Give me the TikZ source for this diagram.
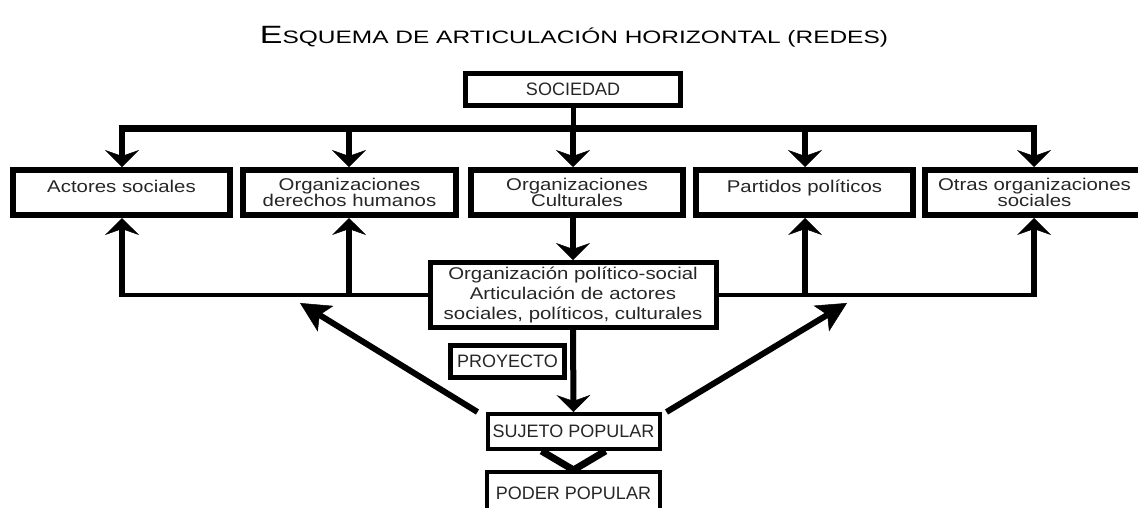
\documentclass[tikz,border=0pt]{standalone}
\usepackage{fontspec}
\setmainfont{Liberation Sans}
\usetikzlibrary{arrows.meta,calc}
\newcommand\sx[1]{\scalebox{1.2}[1]{#1}}
\newcommand\tightlines{\lineskiplimit=-30pt\relax}
\begin{document}
\begin{tikzpicture}[x=1pt,y=-1pt,
  box/.style={draw,line width=6pt,inner sep=0pt,align=center,text=black!85,
    font=\fontsize{17}{15.5}\selectfont\tightlines},
  onel/.style={text height=12pt,text depth=12pt},
  capbox/.style={draw,line width=5pt,inner sep=0pt,align=center,text=black!85,
    font=\fontsize{18}{20}\selectfont},
  darr/.style={line width=6pt,-{Stealth[length=17pt,width=34pt,inset=6pt,line width=0.5pt]}},
  diag/.style={line width=6pt,-{Stealth[length=30pt,width=30pt,inset=7pt,line width=0.5pt]}},
  hline/.style={line width=4pt},
]
\useasboundingbox (0,0) rectangle (1138,507);
% title
\node[anchor=base,inner sep=0pt] (title) at (574,43)
  {\resizebox{628pt}{\height}{\fontsize{25}{25}\selectfont E\fontsize{18}{18}\selectfont SQUEMA DE ARTICULACIÓN HORIZONTAL (REDES)}};
% society
\node[capbox,minimum width=215pt,minimum height=32pt] (soc) at (573,89.5) {SOCIEDAD};
% top row
\node[box,onel,minimum width=217pt,minimum height=45pt] (b1) at (121.5,192.5) {\sx{Actores sociales}};
\node[box,minimum width=213pt,minimum height=45pt] (b2) at (349.5,192.5) {\sx{Organizaciones}\\\sx{derechos humanos}};
\node[box,minimum width=212pt,minimum height=45pt] (b3) at (577,192.5) {\sx{Organizaciones}\\\sx{Culturales}};
\node[box,onel,minimum width=217pt,minimum height=45pt] (b4) at (804.5,192.5) {\sx{Partidos políticos}};
\node[box,minimum width=219pt,minimum height=45pt] (b5) at (1034.5,192.5) {\sx{Otras organizaciones}\\\sx{sociales}};
% middle
\node[box,line width=5pt,minimum width=286pt,minimum height=65pt,font=\fontsize{17}{20}\selectfont\tightlines] (org) at (573,295)
  {\sx{Organización político-social}\\\sx{Articulación de actores}\\\sx{sociales, políticos, culturales}};
\node[capbox,minimum width=114pt,minimum height=32pt] (proy) at (507.5,361.5) {PROYECTO};
\node[capbox,line width=4pt,minimum width=172pt,minimum height=35pt] (suj) at (573.5,431.5) {SUJETO POPULAR};
\node[capbox,line width=4pt,minimum width=173pt,minimum height=42pt] (pod) at (573.5,493) {PODER POPULAR};
% top bar
\coordinate (t1) at (122,128);
\coordinate (t2) at (349,128);
\coordinate (t3) at (573,128);
\coordinate (t4) at (805,128);
\coordinate (t5) at (1034,128);
\draw[line width=5pt] (soc.south) -- (t3);
\draw[line width=7pt] ([xshift=-3pt]t1) -- ([xshift=3pt]t5);
\draw[darr] (t1) -- (t1 |- b1.north);
\draw[darr] (t2) -- (t2 |- b2.north);
\draw[darr] (t3) -- (t3 |- b3.north);
\draw[darr] (t4) -- (t4 |- b4.north);
\draw[darr] (t5) -- (t5 |- b5.north);
% bottom network
\coordinate (u1) at (122,295);
\coordinate (u2) at (349,295);
\coordinate (u4) at (805,295);
\coordinate (u5) at (1034,295);
\draw[hline] ([xshift=-3pt]u1) -- (org.west);
\draw[hline] (org.east) -- ([xshift=3pt]u5);
\draw[darr] (u1) -- (u1 |- b1.south);
\draw[darr] (u2) -- (u2 |- b2.south);
\draw[darr] (u4) -- (u4 |- b4.south);
\draw[darr] (u5) -- (u5 |- b5.south);
% vertical flow
\draw[darr] (org.north |- b3.south) -- (org.north);
\draw[darr] (org.south) -- (suj.north);
\draw[line width=7pt,line join=round] ($(suj.south)+(-32,0)$) -- (pod.north) -- ($(suj.south)+(32,0)$);
% diagonals
\coordinate (dl) at (300,303);
\coordinate (dr) at (847,303);
\draw[diag] ($(suj.north west)+(-8,0)$) -- (dl);
\draw[diag] ($(suj.north east)+(5,0)$) -- (dr);
\end{tikzpicture}
\end{document}
